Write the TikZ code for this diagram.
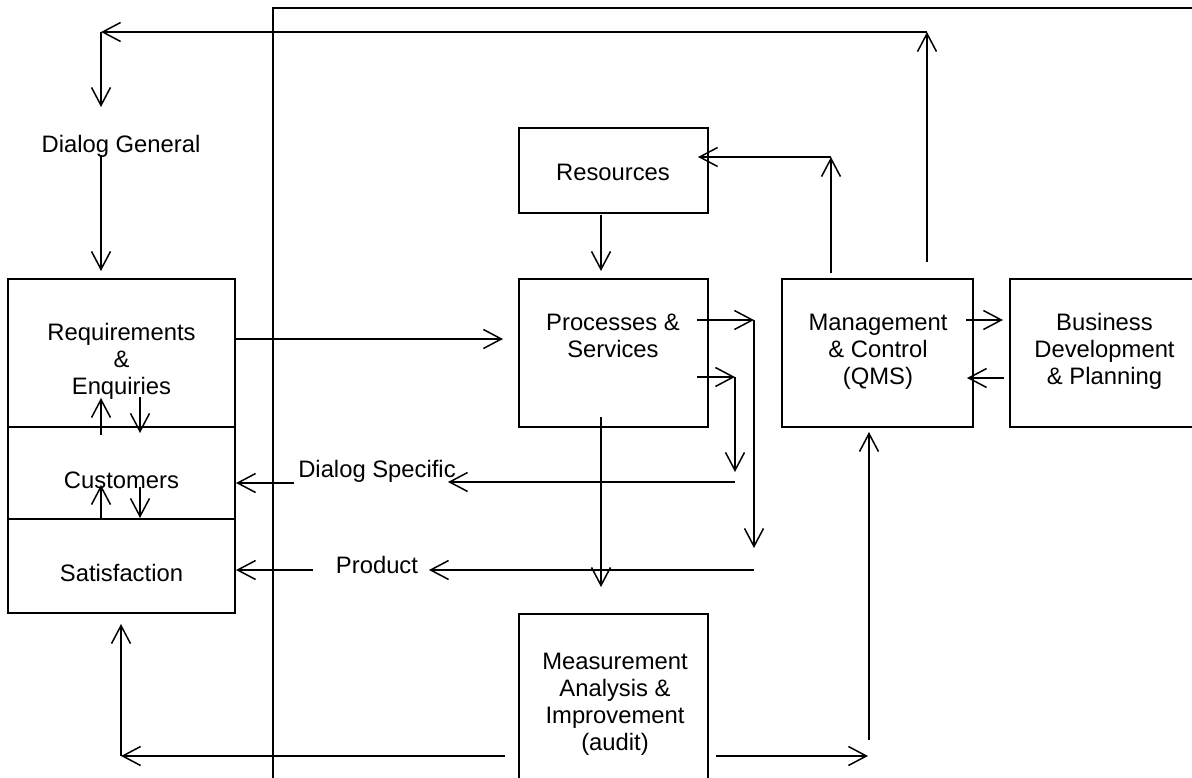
\documentclass[tikz,border=0pt]{standalone}
\usepackage{fontspec}
\setmainfont{Liberation Sans}
\usetikzlibrary{arrows.meta}
\begin{document}
\begin{tikzpicture}[x=1pt,y=-1pt,
  box/.style={draw, line width=2pt, inner sep=0pt, rectangle},
  lbl/.style={inner sep=0pt, align=center, font=\fontsize{23.8}{27}\selectfont},
  arr/.style={line width=1.5pt, -{Straight Barb[length=18pt,width=19pt]}},
  frameline/.style={line width=2pt}]
\useasboundingbox (0,0) rectangle (1192,778);

% boxes
\node[box, minimum width=227pt, minimum height=148pt] (req) at (121.5,353) {};
\node[box, minimum width=227pt, minimum height=92pt] (cus) at (121.5,473) {};
\node[box, minimum width=227pt, minimum height=94pt] (sat) at (121.5,566) {};
\node[box, minimum width=189pt, minimum height=85pt] (res) at (613.5,170.5) {};
\node[box, minimum width=189pt, minimum height=148pt] (proc) at (613.5,353) {};
\node[box, minimum width=191pt, minimum height=148pt] (mgmt) at (877.5,353) {};
\node[box, minimum width=189pt, minimum height=148pt] (bus) at (1104.5,353) {};
\node[box, minimum width=189pt, minimum height=180pt] (meas) at (613.5,704) {};

% frame
\draw[frameline] (273,800) -- (273,8) -- (1200,8);

% texts
\node[lbl] (reqT) at (121.5,361) {Requirements\\\&\\Enquiries};
\node[lbl, anchor=base] (cusT) at (121.5,488.5) {Customers};
\node[lbl, anchor=base] (satT) at (121.5,581.5) {Satisfaction};
\node[lbl, anchor=base] (dg) at (121,153) {Dialog General};
\node[lbl, anchor=base] (resT) at (613,180.5) {Resources};
\node[lbl] (procT) at (613,336) {Processes \&\\Services};
\node[lbl] (mgmtT) at (878,351.5) {Management\\\& Control\\(QMS)};
\node[lbl] (busT) at (1104.5,351.5) {Business\\Development\\\& Planning};
\node[lbl] (measT) at (615,704.5) {Measurement\\Analysis \&\\Improvement\\(audit)};
\node[lbl, anchor=base] (ds) at (377,477.5) {Dialog Specific};
\node[lbl, anchor=base] (prod) at (377,573) {Product};

% coordinates
\coordinate (mTop) at (927,262);
\coordinate (cTR) at (927,32);
\coordinate (cTL) at (101,32);
\coordinate (dgIn) at (101,107);
\coordinate (dgOut) at (101,155);
\coordinate (reqIn) at (101,271);
\coordinate (rpA) at (235,339);
\coordinate (rpB) at (503,339);
\coordinate (u1a) at (101,435);
\coordinate (u1b) at (101,398);
\coordinate (d1a) at (140,397);
\coordinate (d1b) at (140,433);
\coordinate (u2a) at (101,519);
\coordinate (u2b) at (101,485);
\coordinate (d2a) at (140,487);
\coordinate (d2b) at (140,518);
\coordinate (rsA) at (601,215);
\coordinate (rsB) at (601,271);
\coordinate (mrA) at (831,273);
\coordinate (mrB) at (831,157);
\coordinate (mrC) at (698,157);
\coordinate (p1A) at (697,320);
\coordinate (p1B) at (754,320);
\coordinate (p1C) at (754,548);
\coordinate (p2A) at (697,377);
\coordinate (p2B) at (735,377);
\coordinate (p2C) at (735,472);
\coordinate (dsA) at (735,482);
\coordinate (dsB) at (448,482);
\coordinate (dsC) at (294,483);
\coordinate (dsD) at (236,483);
\coordinate (prA) at (754,570);
\coordinate (prB) at (429,570);
\coordinate (prC) at (313,570);
\coordinate (prD) at (236,570);
\coordinate (pmA) at (601,417);
\coordinate (pmB) at (601,587);
\coordinate (mbA) at (966,320);
\coordinate (mbB) at (1003,320);
\coordinate (bmA) at (1004,378);
\coordinate (bmB) at (967,378);
\coordinate (mlA) at (505,756);
\coordinate (mlB) at (121,756);
\coordinate (mlC) at (121,624);
\coordinate (mgA) at (716,756);
\coordinate (mgB) at (868,756);
\coordinate (mgC) at (869,740);
\coordinate (mgD) at (869,432);

% connectors
\draw[arr] (mTop) -- (cTR);
\draw[arr] (cTR) -- (cTL);
\draw[arr] (cTL) -- (dgIn);
\draw[arr] (dgOut) -- (reqIn);
\draw[arr] (rpA) -- (rpB);
\draw[arr] (u1a) -- (u1b);
\draw[arr] (d1a) -- (d1b);
\draw[arr] (u2a) -- (u2b);
\draw[arr] (d2a) -- (d2b);
\draw[arr] (rsA) -- (rsB);
\draw[arr] (mrA) -- (mrB);
\draw[arr] (mrB) -- (mrC);
\draw[arr] (p1A) -- (p1B);
\draw[arr] (p1B) -- (p1C);
\draw[arr] (p2A) -- (p2B);
\draw[arr] (p2B) -- (p2C);
\draw[arr] (dsA) -- (dsB);
\draw[arr] (dsC) -- (dsD);
\draw[arr] (prA) -- (prB);
\draw[arr] (prC) -- (prD);
\draw[arr] (pmA) -- (pmB);
\draw[arr] (mbA) -- (mbB);
\draw[arr] (bmA) -- (bmB);
\draw[arr] (mlA) -- (mlB);
\draw[arr] (mlB) -- (mlC);
\draw[arr] (mgA) -- (mgB);
\draw[arr] (mgC) -- (mgD);
\end{tikzpicture}
\end{document}
